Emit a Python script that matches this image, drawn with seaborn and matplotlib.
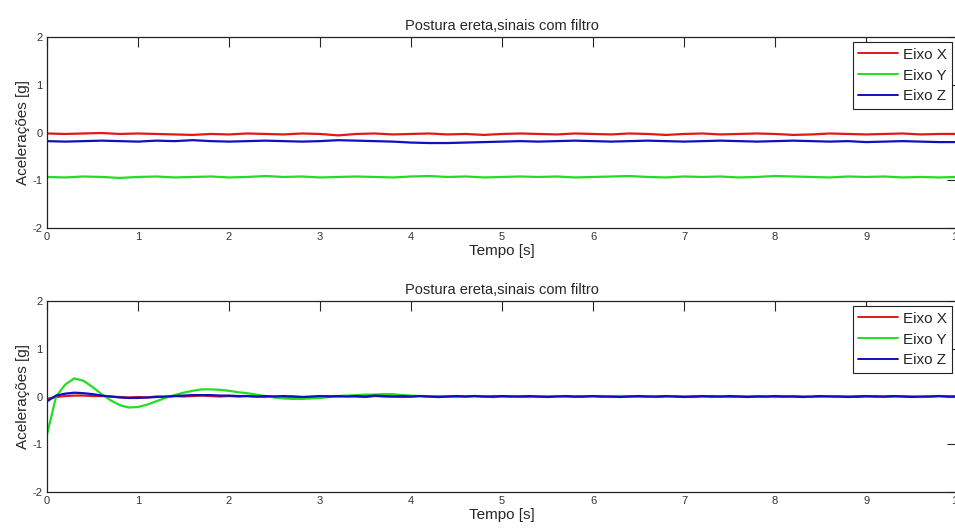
import numpy as np
import pandas as pd
import matplotlib
matplotlib.use("Agg")
import matplotlib.pyplot as plt
import seaborn as sns

# ---- data ------------------------------------------------------------
series_names = ["Eixo X", "Eixo Y", "Eixo Z"]
series_colors = ["#e01818", "#22dd22", "#1010c0"]

# top panel, sampled every 0.2 s from 0 to 10 s
top_x = [-0.02, -0.03, -0.02, -0.01, -0.03, -0.02, -0.03, -0.04, -0.05, -0.03,
         -0.04, -0.02, -0.03, -0.04, -0.02, -0.03, -0.06, -0.03, -0.02, -0.04,
         -0.03, -0.02, -0.04, -0.03, -0.05, -0.03, -0.02, -0.03, -0.04, -0.02,
         -0.03, -0.04, -0.02, -0.03, -0.05, -0.03, -0.02, -0.04, -0.03, -0.02,
         -0.03, -0.05, -0.04, -0.02, -0.03, -0.04, -0.03, -0.02, -0.04, -0.03, -0.03]
top_y = [-0.93, -0.94, -0.92, -0.93, -0.95, -0.93, -0.92, -0.94, -0.93, -0.92,
         -0.94, -0.93, -0.91, -0.93, -0.92, -0.94, -0.93, -0.92, -0.93, -0.94,
         -0.92, -0.91, -0.93, -0.92, -0.94, -0.93, -0.92, -0.93, -0.92, -0.94,
         -0.93, -0.92, -0.91, -0.93, -0.94, -0.92, -0.93, -0.92, -0.94, -0.93,
         -0.91, -0.92, -0.93, -0.94, -0.92, -0.93, -0.92, -0.94, -0.93, -0.94, -0.93]
top_z = [-0.18, -0.19, -0.18, -0.17, -0.18, -0.19, -0.17, -0.18, -0.16, -0.18,
         -0.19, -0.18, -0.17, -0.18, -0.19, -0.18, -0.16, -0.17, -0.18, -0.19,
         -0.21, -0.22, -0.22, -0.21, -0.20, -0.19, -0.18, -0.19, -0.18, -0.17,
         -0.18, -0.19, -0.18, -0.17, -0.18, -0.19, -0.18, -0.17, -0.18, -0.19,
         -0.18, -0.17, -0.18, -0.19, -0.18, -0.20, -0.19, -0.18, -0.19, -0.20, -0.20]

# bottom panel, sampled every 0.1 s from 0 to 10 s
bot_x = [-0.05, -0.01, 0.01, 0.02, 0.02, 0.01, 0.01, 0.00, -0.01, -0.02,
         -0.01, -0.02, 0.00, -0.01, 0.01, 0.00, 0.01, 0.02, 0.01, 0.00,
         0.01, 0.00, 0.01, 0.00, -0.01, 0.00, -0.01, 0.00, -0.01, -0.02,
         0.00, 0.01, 0.00, 0.01, 0.00, -0.01, 0.01, 0.00, 0.00, -0.01,
         0.00, 0.01, 0.00, -0.01, 0.00, 0.01, 0.00, 0.01, 0.00, -0.01,
         0.00, 0.01, 0.00, -0.01, 0.00, 0.00, 0.01, 0.00, -0.01, 0.00,
         0.01, 0.00, -0.01, 0.00, 0.01, 0.00, 0.00, -0.01, 0.00, 0.01,
         0.00, -0.01, 0.00, 0.01, 0.00, -0.01, 0.00, 0.00, 0.01, 0.00,
         -0.01, 0.00, 0.01, 0.00, -0.01, 0.00, 0.01, 0.00, 0.00, -0.01,
         0.00, 0.01, -0.01, 0.00, 0.01, 0.00, -0.01, 0.00, 0.01, 0.00, 0.00]
bot_y = [-0.80, 0.00, 0.25, 0.38, 0.33, 0.20, 0.05, -0.08, -0.18, -0.23,
         -0.22, -0.17, -0.10, -0.03, 0.03, 0.08, 0.12, 0.15, 0.15, 0.14,
         0.12, 0.09, 0.07, 0.04, 0.01, -0.02, -0.04, -0.05, -0.05, -0.04,
         -0.03, -0.01, 0.01, 0.02, 0.03, 0.04, 0.04, 0.05, 0.05, 0.03,
         0.02, 0.01, 0.00, 0.01, 0.00, -0.01, 0.00, 0.01, 0.00, 0.01,
         0.00, 0.00, 0.01, 0.00, -0.01, 0.00, 0.01, 0.00, 0.00, 0.01,
         0.00, -0.01, 0.00, 0.01, 0.00, 0.00, -0.01, 0.00, 0.01, 0.00,
         0.00, 0.01, 0.00, -0.01, 0.00, 0.00, 0.01, 0.00, 0.00, -0.01,
         0.00, 0.01, 0.00, 0.00, -0.01, 0.00, 0.01, 0.00, 0.00, 0.01,
         0.00, -0.01, 0.00, 0.01, 0.00, 0.00, -0.01, 0.00, 0.01, 0.00, 0.00]
bot_z = [-0.10, 0.02, 0.06, 0.08, 0.07, 0.05, 0.02, 0.00, -0.02, -0.03,
         -0.03, -0.02, -0.01, 0.00, 0.01, 0.02, 0.03, 0.03, 0.03, 0.02,
         0.02, 0.01, 0.01, 0.00, 0.01, 0.00, 0.01, 0.00, -0.01, 0.00,
         0.01, 0.00, 0.01, 0.00, 0.01, 0.00, 0.02, 0.01, 0.00, 0.01,
         0.00, 0.01, 0.00, -0.01, 0.00, 0.01, 0.00, 0.01, 0.00, 0.00,
         0.01, 0.00, 0.00, 0.01, 0.00, -0.01, 0.00, 0.01, 0.00, 0.00,
         0.01, 0.00, 0.00, -0.01, 0.00, 0.01, 0.00, 0.00, 0.01, 0.00,
         -0.01, 0.00, 0.01, 0.00, 0.00, 0.01, 0.00, -0.01, 0.00, 0.00,
         0.01, 0.00, 0.00, -0.01, 0.00, 0.01, 0.00, 0.00, -0.01, 0.00,
         0.01, 0.00, 0.00, 0.01, 0.00, -0.01, 0.00, 0.00, 0.01, 0.00, 0.00]

x_ticks = [0, 1, 2, 3, 4, 5, 6, 7, 8, 9, 10]
y_ticks = [-2, -1, 0, 1, 2]
title = "Postura ereta,sinais com filtro"


def long_frame(xs, ys, zs):
    t = np.linspace(0, 10, len(xs))
    return pd.concat([pd.DataFrame({"t": t, "val": v, "eixo": n})
                      for v, n in zip([xs, ys, zs], series_names)])


sns.set_theme(style="white")
plt.rcParams["font.family"] = ["Liberation Sans", "DejaVu Sans"]
plt.rcParams["axes.unicode_minus"] = False

fig = plt.figure(figsize=(9.55, 5.28), dpi=100)
ax_top = fig.add_axes([0.0492, 0.568, 0.953, 0.362])
ax_bot = fig.add_axes([0.0492, 0.068, 0.953, 0.362])

palette = dict(zip(series_names, series_colors))
for ax, df in [(ax_top, long_frame(top_x, top_y, top_z)),
               (ax_bot, long_frame(bot_x, bot_y, bot_z))]:
    sns.lineplot(data=df, x="t", y="val", hue="eixo", palette=palette,
                 linewidth=1.6, ax=ax, estimator=None, sort=False)
    ax.set_xlim(0, 10)
    ax.set_ylim(-2, 2)
    ax.set_xticks(x_ticks)
    ax.set_yticks(y_ticks)
    ax.tick_params(direction="in", length=7, width=0.8, top=True, right=True,
                   labelsize=8, labelcolor="#333333", pad=3)
    for s in ax.spines.values():
        s.set_color("#222222")
        s.set_linewidth(0.9)
    ax.set_title(title, fontsize=10.5, pad=5)
    ax.set_xlabel("Tempo [s]", fontsize=11, labelpad=1)
    ax.set_ylabel("Acelerações [g]", fontsize=11, labelpad=2)
    leg = ax.legend(loc="upper right", fontsize=11, handlelength=2.6,
                    handletextpad=0.3, borderaxespad=0.35, labelspacing=0.45,
                    fancybox=False, framealpha=1, borderpad=0.35)
    leg.get_frame().set_edgecolor("#222222")
    leg.get_frame().set_linewidth(0.8)
    for line in leg.get_lines():
        line.set_linewidth(1.4)

fig.savefig("out.png", dpi=100)
